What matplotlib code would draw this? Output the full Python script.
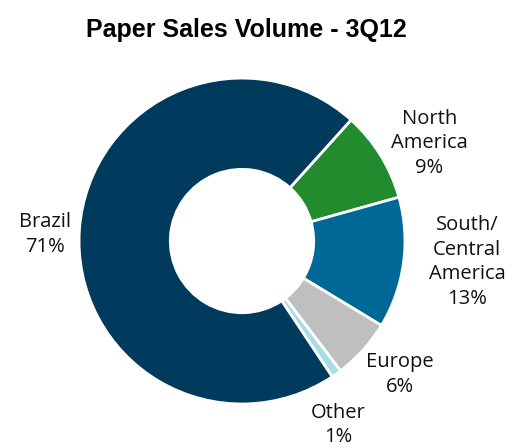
import matplotlib.pyplot as plt
import numpy as np

# Paper sales volume share by region, 3Q12
regions = ['North\nAmerica', 'South/\nCentral\nAmerica', 'Europe', 'Other', 'Brazil']
shares = [9, 13, 6, 1, 71]
colors = ['#228B2E', '#006896', '#BFBFBF', '#A9DCE6', '#003A5C']

fig = plt.figure(figsize=(5.13, 4.48), dpi=100)
ax = fig.add_axes([0, 0, 1, 1])

wedges, _ = ax.pie(shares, colors=colors, startangle=48, counterclock=False,
                   radius=1.0, wedgeprops=dict(width=0.56, edgecolor='white', linewidth=2))

# label positions (data units, radius 1 = outer edge)
label_pos = [(1.15, 0.60), (1.38, -0.13), (0.97, -0.82), (0.59, -1.13), (-1.21, 0.04)]
for w, name, s, (x, y) in zip(wedges, regions, shares, label_pos):
    ax.text(x, y, f'{name}\n{s}%', ha='center', va='center', fontsize=14.5,
            family='Open Sans', linespacing=1.3, color='#111111')

ax.set_xlim(-1.485, 1.663)
ax.set_ylim(-1.270, 1.479)
ax.axis('off')

fig.text(0.48, 0.932, 'Paper Sales Volume - 3Q12', ha='center', va='center',
         fontsize=18, fontweight='bold', family='Liberation Sans')

fig.savefig('out.png', dpi=100)
